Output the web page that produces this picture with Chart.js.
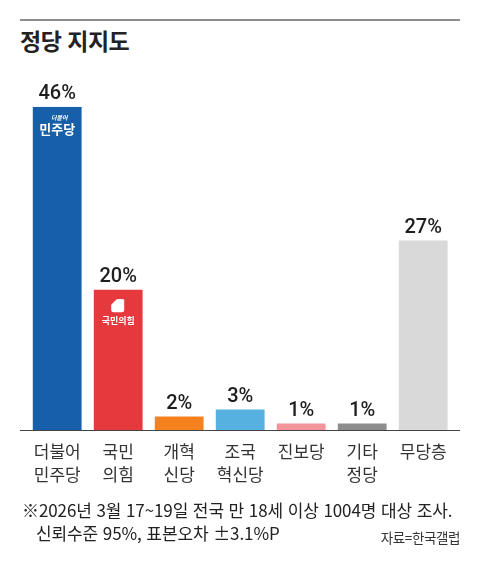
<!DOCTYPE html>
<html lang="ko">
<head>
<meta charset="utf-8">
<script src="https://cdn.jsdelivr.net/npm/chart.js@4.4.1/dist/chart.umd.min.js"></script>
<style>
  html, body { margin: 0; padding: 0; background: #fff; }
  body { width: 480px; height: 570px; position: relative; overflow: hidden; font-family: "Noto Sans CJK KR", "Noto Sans", sans-serif; color: #222; }
  #linea { position: absolute; left: 20px; top: 19px; width: 440px; height: 2px; background: #8c8c8c; }
  #titulo { position: absolute; left: 20px; top: 29px; font-size: 23px; font-weight: bold; line-height: 1; letter-spacing: -0.5px; }
  #nota1 { position: absolute; left: 22px; top: 501px; font-size: 17px; line-height: 1; white-space: nowrap; letter-spacing: -0.1px; color: #222; }
  #nota2 { position: absolute; left: 36px; top: 524px; font-size: 17px; line-height: 1; white-space: nowrap; letter-spacing: -0.1px; color: #222; }
  #fuente { position: absolute; right: 20px; top: 531px; font-size: 13.5px; line-height: 1; white-space: nowrap; letter-spacing: -0.4px; color: #333; }
  #grafica { position: absolute; left: 0; top: 0; }
</style>
</head>
<body>
<div id="linea"></div>
<div id="titulo">정당 지지도</div>
<canvas id="grafica" width="480" height="570"></canvas>
<div id="nota1">※2026년 3월 17~19일 전국 만 18세 이상 1004명 대상 조사.</div>
<div id="nota2">신뢰수준 95%, 표본오차 ±3.1%P</div>
<div id="fuente">자료=한국갤럽</div>
<script>
// 정당 이름 (x축 눈금)
var partidos = [['더불어', '민주당'], ['국민', '의힘'], ['개혁', '신당'], ['조국', '혁신당'], '진보당', ['기타', '정당'], '무당층'];
// 지지율 (%)
var apoyo = [46, 20, 2, 3, 1, 1, 27];
// 막대 색
var colores = ['#1760a9', '#e5393e', '#f5811f', '#56b1e0', '#f3959b', '#8d8d8d', '#d9d9d9'];

// 막대 위에 퍼센트 표시
var etiquetas = {
    id: 'etiquetas',
    afterDatasetsDraw: function (chart) {
        var ctx = chart.ctx;
        var meta = chart.getDatasetMeta(0);
        ctx.save();
        ctx.fillStyle = '#1e1e1e';
        ctx.font = '500 20px Roboto';
        ctx.textAlign = 'center';
        ctx.textBaseline = 'alphabetic';
        meta.data.forEach(function (barra, i) {
            ctx.fillText(apoyo[i] + '%', barra.x, barra.y - 7.5);
        });
        ctx.restore();
    }
};

// 바닥선 (축)
var lineaBase = {
    id: 'lineaBase',
    afterDatasetsDraw: function (chart) {
        var ctx = chart.ctx;
        var y = chart.scales.y.getPixelForValue(0);
        ctx.save();
        ctx.strokeStyle = '#444';
        ctx.lineWidth = 1.2;
        ctx.beginPath();
        ctx.moveTo(20, y);
        ctx.lineTo(460, y);
        ctx.stroke();
        ctx.restore();
    }
};

// 정당 로고 (민주당, 국민의힘)
var logos = {
    id: 'logos',
    afterDatasetsDraw: function (chart) {
        var ctx = chart.ctx;
        var meta = chart.getDatasetMeta(0);
        var b1 = meta.data[0];
        var b2 = meta.data[1];
        ctx.save();
        ctx.fillStyle = '#fff';
        ctx.textAlign = 'center';
        // 더불어민주당
        ctx.font = 'italic bold 6px "Noto Sans CJK KR"';
        ctx.fillText('더불어', b1.x + 2, b1.y + 13);
        ctx.font = 'bold 13px "Noto Sans CJK KR"';
        ctx.fillText('민주당', b1.x, b1.y + 27);
        // 국민의힘
        var cx = b2.x - 0.5, cy = b2.y + 16;
        ctx.beginPath();
        ctx.moveTo(cx - 6.5, cy - 1);
        ctx.lineTo(cx - 1, cy - 6.5);
        ctx.quadraticCurveTo(cx + 6.5, cy - 7, cx + 6.5, cy - 6);
        ctx.lineTo(cx + 6.5, cy + 4);
        ctx.quadraticCurveTo(cx + 6.5, cy + 6.5, cx + 4, cy + 6.5);
        ctx.lineTo(cx - 4, cy + 6.5);
        ctx.quadraticCurveTo(cx - 6.5, cy + 6.5, cx - 6.5, cy + 4);
        ctx.closePath();
        ctx.fill();
        ctx.font = 'bold 9px "Noto Sans CJK KR"';
        ctx.fillText('국민의힘', b2.x, b2.y + 34);
        ctx.restore();
    }
};

var ctx = document.getElementById('grafica').getContext('2d');
var grafico = new Chart(ctx, {
    type: 'bar',
    data: {
        labels: partidos,
        datasets: [{
            data: apoyo,
            backgroundColor: colores,
            borderWidth: 0,
            barPercentage: 0.8,
            categoryPercentage: 1
        }]
    },
    options: {
        responsive: false,
        animation: false,
        events: [],
        layout: {
            padding: { left: 26.7, right: 26.3, top: 106.7, bottom: 0 }
        },
        plugins: {
            legend: { display: false },
            tooltip: { enabled: false }
        },
        scales: {
            x: {
                grid: { display: false, drawTicks: false },
                border: { display: false },
                ticks: {
                    color: '#333',
                    padding: 10,
                    maxRotation: 0,
                    autoSkip: false,
                    font: { family: '"Noto Sans CJK KR"', size: 17, lineHeight: 1.35 }
                },
                afterFit: function (escala) { escala.height = 139.5; }
            },
            y: {
                display: false,
                min: 0,
                max: 46
            }
        }
    },
    plugins: [etiquetas, lineaBase, logos]
});
</script>
</body>
</html>
